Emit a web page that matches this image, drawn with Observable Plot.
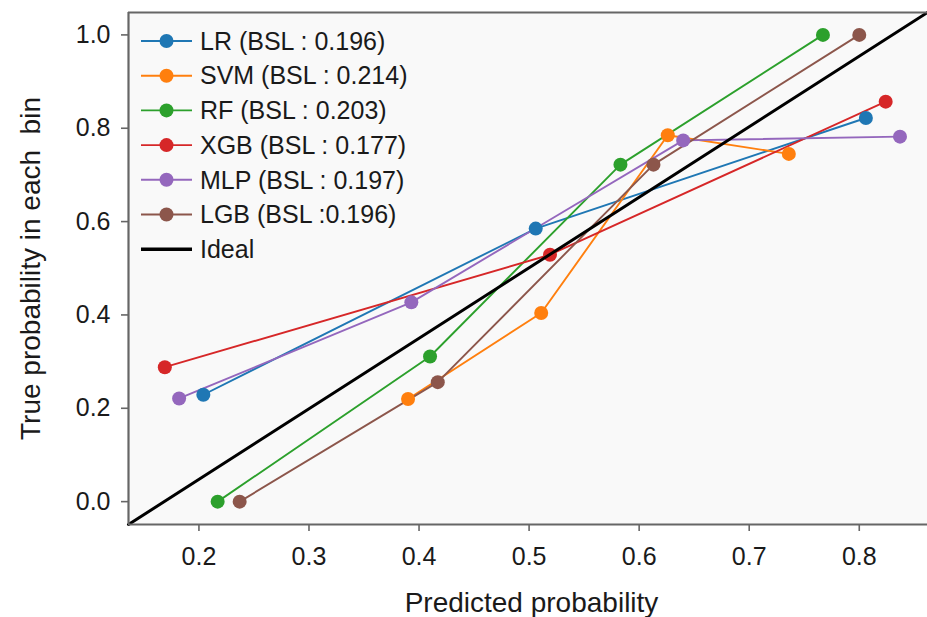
<!DOCTYPE html>
<html><head><meta charset="utf-8">
<script src="https://cdn.jsdelivr.net/npm/d3@7"></script>
<script src="https://cdn.jsdelivr.net/npm/@observablehq/plot@0.6"></script>
<style>
body{margin:0;background:#fff;}
#chart svg{font-family:"Liberation Sans",Arial,sans-serif;}
</style>
</head><body><div id="chart"></div>
<script>
// ---- data ----
const models = ["LR", "SVM", "RF", "XGB", "MLP", "LGB"];
const legendLabels = ["LR (BSL : 0.196)", "SVM (BSL : 0.214)", "RF (BSL : 0.203)", "XGB (BSL : 0.177)", "MLP (BSL : 0.197)", "LGB (BSL :0.196)"];
const idealLabel = "Ideal";
const colors = ["#1f77b4", "#ff7f0e", "#2ca02c", "#d62728", "#9467bd", "#8c564b"];

const predLR  = [0.204, 0.506, 0.806];
const trueLR  = [0.229, 0.585, 0.822];
const predSVM = [0.390, 0.511, 0.626, 0.736];
const trueSVM = [0.220, 0.404, 0.785, 0.745];
const predRF  = [0.217, 0.410, 0.583, 0.767];
const trueRF  = [0.000, 0.311, 0.722, 1.000];
const predXGB = [0.169, 0.519, 0.824];
const trueXGB = [0.288, 0.529, 0.857];
const predMLP = [0.182, 0.393, 0.640, 0.837];
const trueMLP = [0.221, 0.427, 0.774, 0.782];
const predLGB = [0.237, 0.417, 0.613, 0.800];
const trueLGB = [0.000, 0.256, 0.722, 1.000];

const xTicks = [0.2, 0.3, 0.4, 0.5, 0.6, 0.7, 0.8];
const yTicks = [0.0, 0.2, 0.4, 0.6, 0.8, 1.0];
const xDomain = [0.136, 0.862];
const yDomain = [-0.049, 1.048];
const xTitle = "Predicted probability";
const yTitle = "True probability in each  bin";

// ---- build table ----
const series = {LR: [predLR, trueLR], SVM: [predSVM, trueSVM], RF: [predRF, trueRF],
                XGB: [predXGB, trueXGB], MLP: [predMLP, trueMLP], LGB: [predLGB, trueLGB]};
const rows = models.flatMap(m => series[m][0].map((p, i) => ({model: m, pred: p, obs: series[m][1][i]})));
const ideal = [{pred: xDomain[0], obs: yDomain[0]}, {pred: xDomain[1], obs: yDomain[1]}];

const chart = Plot.plot({
  width: 927, height: 617,
  marginLeft: 128, marginRight: 0, marginTop: 12, marginBottom: 93,
  style: {fontSize: "25px", fontFamily: "'Liberation Sans', Arial, sans-serif", color: "#1a1a1a", background: "#fff"},
  x: {domain: xDomain, ticks: xTicks, tickFormat: d3.format(".1f"), tickSize: 7, tickPadding: 15.5, label: null},
  y: {domain: yDomain, ticks: yTicks, tickFormat: d3.format(".1f"), tickSize: 7, tickPadding: 11, label: null},
  color: {domain: models, range: colors},
  marks: [
    Plot.frame({fill: "#f9f9f9", stroke: "none"}),
    Plot.line(rows, {x: "pred", y: "obs", z: "model", stroke: "model", strokeWidth: 1.9}),
    Plot.dot(rows, {x: "pred", y: "obs", fill: "model", r: 7}),
    Plot.line(ideal, {x: "pred", y: "obs", stroke: "#000", strokeWidth: 3}),
    Plot.ruleX([xDomain[0]], {stroke: "#666", strokeWidth: 2.2}),
    Plot.ruleY([yDomain[0], yDomain[1]], {stroke: "#666", strokeWidth: 2.2}),
    Plot.text([xTitle], {text: d => d, frameAnchor: "bottom", textAnchor: "middle", dy: 79, dx: 3.5, lineAnchor: "middle", fontSize: 28, fill: "#1a1a1a"}),
    Plot.text([yTitle], {text: d => d, frameAnchor: "left", textAnchor: "middle", rotate: -90, dx: -97, lineAnchor: "middle", fontSize: 28, fill: "#1a1a1a"})
  ]
});
document.getElementById("chart").appendChild(chart);

const svg = d3.select(chart);
svg.selectAll("text").style("white-space", "pre");
svg.selectAll("[aria-label='x-axis tick'] path, [aria-label='y-axis tick'] path, [aria-label='x-axis'] path, [aria-label='y-axis'] path")
   .attr("stroke", "#666").attr("stroke-width", 1.6);

// ---- legend (inside plot, upper left) ----
const legendItems = legendLabels.map((t, i) => ({label: t, color: colors[i], dot: true}))
  .concat([{label: idealLabel, color: "#000", dot: false}]);
const lg = svg.append("g").attr("font-size", 25).attr("fill", "#1a1a1a").attr("text-anchor", "start");
legendItems.forEach((d, i) => {
  const y = 41 + 34.7 * i;
  lg.append("line").attr("x1", 141).attr("x2", 192).attr("y1", y).attr("y2", y)
    .attr("stroke", d.color).attr("stroke-width", d.dot ? 1.9 : 3.5);
  if (d.dot) lg.append("circle").attr("cx", 166.5).attr("cy", y).attr("r", 7).attr("fill", d.color);
  lg.append("text").attr("x", 200).attr("y", y).attr("dy", "0.35em").attr("text-anchor", "start").text(d.label);
});
</script>
</body></html>
